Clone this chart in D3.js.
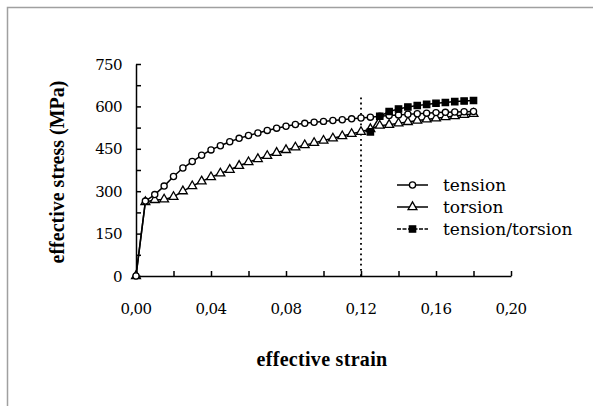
<!DOCTYPE html>
<html>
<head>
<meta charset="utf-8">
<script src="https://cdn.jsdelivr.net/npm/d3@7"></script>
<style>
  body { margin: 0; background: #fff; }
  svg text { font-family: 'DejaVu Serif', serif; }
  svg text.title { font-family: 'Liberation Serif', serif; }
</style>
</head>
<body>
<svg></svg>
<script>
let width = 593;
let height = 406;

// strain values shared by tension and torsion curves
const strain = [0, 0.005, 0.01, 0.015, 0.02, 0.025, 0.03, 0.035, 0.04, 0.045, 0.05,
  0.055, 0.06, 0.065, 0.07, 0.075, 0.08, 0.085, 0.09, 0.095, 0.1, 0.105, 0.11,
  0.115, 0.12, 0.125, 0.13, 0.135, 0.14, 0.145, 0.15, 0.155, 0.16, 0.165, 0.17,
  0.175, 0.18];
const tension = [0, 265, 288, 318, 352, 382, 405, 427, 446, 461, 475, 487, 497,
  506, 515, 523, 530, 536, 540, 544, 547, 550, 553, 556, 559, 562, 565, 568, 570,
  572, 574, 576, 578, 579, 580, 581, 582];
const torsion = [0, 262, 269, 271, 280, 300, 318, 335, 350, 363, 376, 390, 403,
  414, 425, 436, 446, 455, 463, 471, 479, 487, 495, 503, 510, 520, 532, 535, 540,
  545, 550, 554, 558, 562, 566, 570, 574];
const ttStrain = [0.125, 0.13, 0.135, 0.14, 0.145, 0.15, 0.155, 0.16, 0.165, 0.17, 0.175, 0.18];
const tensionTorsion = [510, 565, 582, 591, 598, 603, 607, 611, 614, 617, 619, 621];

const xTickLabels = [0, 0.04, 0.08, 0.12, 0.16, 0.20];
const yTickLabels = [0, 150, 300, 450, 600, 750];
const switchStrain = 0.12;
const legendNames = ['tension', 'torsion', 'tension/torsion'];

let x = d3.scaleLinear().domain([0, 0.2]).range([136, 511]);
let y = d3.scaleLinear().domain([0, 750]).range([276, 64]);

let svg = d3.select('svg')
            .attr('width', width)
            .attr('height', height);

// outer frame (only the left and top edges fall inside the picture)
svg.append('rect')
   .attr('x', 7.5).attr('y', 7.5)
   .attr('width', 620).attr('height', 420)
   .attr('fill', 'none')
   .attr('stroke', '#a0a0a0')
   .attr('stroke-width', 1.5);

// axes, inward ticks
let xAxis = d3.axisBottom(x)
              .tickValues(d3.range(0, 0.2001, 0.02))
              .tickSizeInner(-5).tickSizeOuter(0)
              .tickFormat('');
let yAxis = d3.axisLeft(y)
              .tickValues(d3.range(0, 751, 75))
              .tickSizeInner(-5).tickSizeOuter(0)
              .tickFormat('');

let gx = svg.append('g').attr('transform', `translate(0, ${y(0)})`).call(xAxis);
let gy = svg.append('g').attr('transform', `translate(${x(0)}, 0)`).call(yAxis);
[gx, gy].forEach(g => {
  g.selectAll('path, line').attr('stroke', '#000').attr('stroke-width', 1.5);
});

svg.append('g')
  .selectAll('text')
  .data(xTickLabels)
  .join('text')
    .attr('x', d => x(d))
    .attr('y', 314)
    .attr('text-anchor', 'middle')
    .style('font-size', '15px')
    .style('letter-spacing', '-0.6px')
    .text(d => d3.format('.2f')(d).replace('.', ','));

svg.append('g')
  .selectAll('text')
  .data(yTickLabels)
  .join('text')
    .attr('x', 122)
    .attr('y', d => y(d) + 5.5)
    .attr('text-anchor', 'end')
    .style('font-size', '15px')
    .style('letter-spacing', '-0.6px')
    .text(d => d);

svg.append('text')
   .attr('class', 'title')
   .attr('x', 322)
   .attr('y', 366)
   .attr('text-anchor', 'middle')
   .style('font-size', '20px')
   .style('font-weight', 'bold')
   .style('letter-spacing', '0.3px')
   .text('effective strain');

svg.append('text')
   .attr('class', 'title')
   .attr('transform', `translate(64, 172) rotate(-90)`)
   .attr('text-anchor', 'middle')
   .style('font-size', '20px')
   .style('font-weight', 'bold')
   .text('effective stress (MPa)');

// dotted line where loading switches
svg.append('line')
   .attr('x1', x(switchStrain)).attr('x2', x(switchStrain))
   .attr('y1', y(0)).attr('y2', y(640))
   .attr('stroke', '#000')
   .attr('stroke-width', 1.8)
   .attr('stroke-dasharray', '1.8,3.4');

let line = d3.line().x(d => x(d[0])).y(d => y(d[1]));

let tensionPts = d3.zip(strain, tension);
let torsionPts = d3.zip(strain, torsion);
let ttPts = d3.zip(ttStrain, tensionTorsion);

function drawSeries(pts, dash) {
  svg.append('path')
     .datum(pts)
     .attr('d', line)
     .attr('fill', 'none')
     .attr('stroke', '#000')
     .attr('stroke-width', 1.5)
     .attr('stroke-dasharray', dash);
}

let circle = d3.symbol().type(d3.symbolCircle).size(30);
let triangle = d3.symbol().type(d3.symbolTriangle).size(34);
let square = d3.symbol().type(d3.symbolSquare).size(40);

function drawMarkers(pts, sym, fill) {
  svg.append('g')
    .selectAll('path')
    .data(pts)
    .join('path')
      .attr('transform', d => `translate(${x(d[0])}, ${y(d[1])})`)
      .attr('d', sym)
      .attr('fill', fill)
      .attr('stroke', '#000')
      .attr('stroke-width', 1.3);
}

drawSeries(torsionPts, null);
drawSeries(tensionPts, null);
drawSeries(ttPts, null);
drawMarkers(torsionPts, triangle, '#fff');
drawMarkers(tensionPts, circle, '#fff');
drawMarkers(ttPts, square, '#000');

// legend
let legend = svg.append('g').attr('transform', 'translate(397, 185)');
let legendSyms = [[circle, '#fff', null], [triangle, '#fff', null], [square, '#000', '4,1.5']];
legendNames.forEach((name, i) => {
  let row = legend.append('g').attr('transform', `translate(0, ${i * 22})`);
  row.append('line')
     .attr('x1', 0).attr('x2', 31)
     .attr('stroke', '#000').attr('stroke-width', 1.5)
     .attr('stroke-dasharray', legendSyms[i][2]);
  row.append('path')
     .attr('transform', 'translate(15.5, 0)')
     .attr('d', legendSyms[i][0])
     .attr('fill', legendSyms[i][1])
     .attr('stroke', '#000').attr('stroke-width', 1.3);
  row.append('text')
     .attr('x', 46)
     .attr('y', 6)
     .style('font-size', '17px')
     .text(name);
});
</script>
</body>
</html>
